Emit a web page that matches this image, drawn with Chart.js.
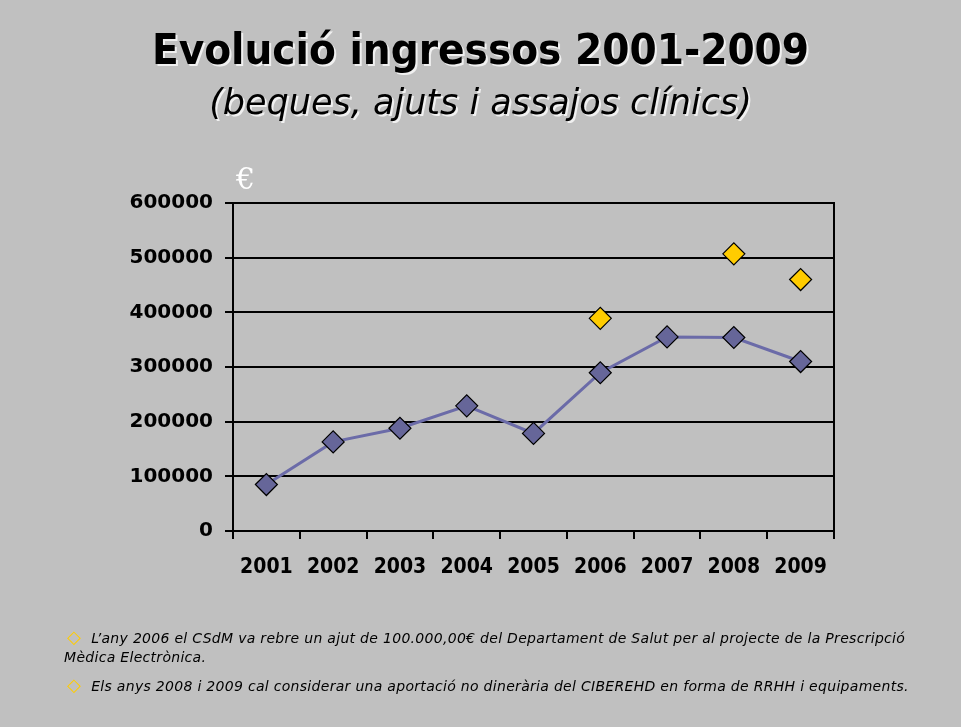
<!DOCTYPE html>
<html>
<head>
<meta charset="utf-8">
<script src="https://cdn.jsdelivr.net/npm/chart.js@4"></script>
<style>
  html, body { margin: 0; padding: 0; }
  body { width: 961px; height: 727px; background: #c0c0c0; position: relative; overflow: hidden;
         font-family: "DejaVu Sans Condensed", "DejaVu Sans", sans-serif; }
  #wrap { position: absolute; left: 0; top: 0; width: 961px; height: 727px; }
  .title { position: absolute; left: 0; width: 961px; text-align: center; color: #000; }
  #t1 { top: 24px; font-size: 43.5px; font-weight: bold; text-shadow: 2px 2px 0 #f0f0f0; }
  #t2 { top: 82px; font-family: "DejaVu Sans", sans-serif; font-size: 35px; font-style: italic; text-shadow: 2px 2px 0 #f0f0f0; }
  #euro { position: absolute; left: 236px; top: 161px; font-family: "DejaVu Serif", serif; font-size: 30px; color: #fff; }
  .note { position: absolute; font-family: "DejaVu Sans", sans-serif; font-size: 14px; letter-spacing: 0.3px; font-style: italic; color: #000; line-height: 19px; }
  .note .b { color: #ffcc00; font-style: normal; font-size: 18px; margin-right: 10px; }
</style>
</head>
<body>
<div id="wrap"><canvas id="chart" width="961" height="727"></canvas></div>
<div class="title" id="t1">Evolució ingressos 2001-2009</div>
<div class="title" id="t2">(beques, ajuts i assajos clínics)</div>
<div id="euro">€</div>
<div class="note" style="left:64px; top:627px; width:880px;"><span class="b" style="margin-left:3px">◇</span>L’any 2006 el CSdM va rebre un ajut de 100.000,00€ del Departament de Salut per al projecte de la Prescripció<br>Mèdica Electrònica.</div>
<div class="note" style="left:64px; top:675px; width:880px;"><span class="b" style="margin-left:3px">◇</span>Els anys 2008 i 2009 cal considerar una aportació no dinerària del CIBEREHD en forma de RRHH i equipaments.</div>
<script>
const years = ['2001', '2002', '2003', '2004', '2005', '2006', '2007', '2008', '2009'];
const ingressos = [85000, 163000, 188000, 229000, 178500, 289500, 355000, 354000, 310000];
const ambAjuts = [null, null, null, null, null, 389000, null, 507000, 460000];
const yMin = 0, yMax = 600000, yStep = 100000;

const rightBorder = {
  id: 'rightBorder',
  afterDraw(chart) {
    const { ctx, chartArea } = chart;
    ctx.save();
    ctx.strokeStyle = '#000';
    ctx.lineWidth = 2;
    ctx.beginPath();
    ctx.moveTo(chartArea.right, chartArea.top - 1);
    ctx.lineTo(chartArea.right, chartArea.bottom + 1);
    ctx.stroke();
    ctx.restore();
  }
};

new Chart(document.getElementById('chart'), {
  type: 'line',
  data: {
    labels: years,
    datasets: [{
      data: ingressos,
      borderColor: '#6b6ba8',
      borderWidth: 3,
      pointStyle: 'rectRot',
      pointRadius: 11,
      pointBackgroundColor: '#666699',
      pointBorderColor: '#000',
      pointBorderWidth: 1.2,
      tension: 0
    }, {
      data: ambAjuts,
      showLine: false,
      pointStyle: 'rectRot',
      pointRadius: 11,
      pointBackgroundColor: '#ffcc00',
      pointBorderColor: '#000',
      pointBorderWidth: 1.2
    }]
  },
  options: {
    responsive: false,
    animation: false,
    layout: { padding: { left: 0, top: 203, right: 127, bottom: 0 } },
    plugins: { legend: { display: false }, tooltip: { enabled: false } },
    scales: {
      x: {
        offset: true,
        afterFit: (s) => { s.height = 196; },
        grid: { offset: true, drawOnChartArea: false, color: '#000', lineWidth: 2, tickLength: 8 },
        border: { display: true, color: '#000', width: 2 },
        ticks: { color: '#000', padding: 16, font: { family: 'DejaVu Sans Condensed', size: 21, weight: 'bold' } }
      },
      y: {
        min: yMin,
        max: yMax,
        afterFit: (s) => { s.width = 233; },
        grid: { color: '#000', lineWidth: 2, tickLength: 8 },
        border: { display: true, color: '#000', width: 2 },
        ticks: {
          stepSize: yStep,
          color: '#000',
          padding: 12,
          font: { family: 'DejaVu Sans', size: 20, weight: 'bold' },
          callback: (v) => String(v)
        }
      }
    }
  },
  plugins: [rightBorder]
});
</script>
</body>
</html>
